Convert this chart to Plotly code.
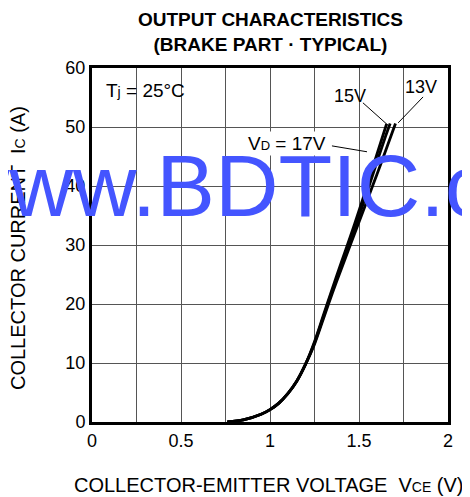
import plotly.graph_objects as go

# ---- data ----
v_17 = [0.76, 0.85, 0.95, 1.0, 1.05, 1.1, 1.15, 1.2, 1.25, 1.3, 1.35, 1.4, 1.45, 1.5, 1.55, 1.6, 1.655]
i_17 = [0, 0.35, 1.3, 2.1, 3.2, 4.8, 6.9, 9.8, 13.6, 18.1, 22.6, 27.0, 31.3, 35.8, 40.5, 45.3, 50.5]

v_15 = [0.76, 0.85, 0.95, 1.0, 1.05, 1.1, 1.15, 1.2, 1.25, 1.3, 1.35, 1.4, 1.45, 1.5, 1.55, 1.6, 1.65, 1.675]
i_15 = [0, 0.35, 1.3, 2.1, 3.2, 4.8, 6.9, 9.8, 13.4, 17.8, 22.2, 26.4, 30.6, 34.9, 39.4, 44.0, 48.5, 50.6]

v_13 = [0.76, 0.85, 0.95, 1.0, 1.05, 1.1, 1.15, 1.2, 1.25, 1.3, 1.35, 1.4, 1.45, 1.5, 1.55, 1.6, 1.65, 1.705]
i_13 = [0, 0.35, 1.3, 2.1, 3.2, 4.8, 6.9, 9.8, 13.2, 17.5, 21.8, 25.9, 29.9, 33.9, 37.9, 41.9, 46.0, 50.6]

x_ticks = [0, 0.5, 1, 1.5, 2]
x_tick_labels = ["0", "0.5", "1", "1.5", "2"]
y_ticks = [0, 10, 20, 30, 40, 50, 60]
y_tick_labels = ["0", "10", "20", "30", "40", "50", "60"]

FONT = "Liberation Sans, Arial, Helvetica, sans-serif"

fig = go.Figure()
for vx, iy, name in [(v_17, i_17, "17V"), (v_15, i_15, "15V"), (v_13, i_13, "13V")]:
    fig.add_trace(go.Scatter(x=vx, y=iy, mode="lines", name=name,
                             line=dict(color="black", width=2.8, shape="spline", smoothing=0.8),
                             showlegend=False, hoverinfo="skip"))

grid_col = "#555555"
fig.update_layout(
    width=462, height=489,
    margin=dict(l=84, r=22, t=60, b=75),
    paper_bgcolor="white", plot_bgcolor="white",
    font=dict(family=FONT, size=18, color="black"),
    xaxis=dict(range=[0, 2], tickvals=x_ticks, ticktext=x_tick_labels,
               showgrid=True, gridcolor=grid_col, gridwidth=1,
               minor=dict(dtick=0.25, showgrid=True, gridcolor=grid_col, gridwidth=1),
               showline=True, linewidth=3, linecolor="black", mirror=True,
               zeroline=False, ticks="", tickfont=dict(size=18)),
    yaxis=dict(range=[0, 60], tickvals=y_ticks, ticktext=y_tick_labels,
               showgrid=True, gridcolor=grid_col, gridwidth=1,
               showline=True, linewidth=3, linecolor="black", mirror=True,
               zeroline=False, ticks="", tickfont=dict(size=18)),
)

ann = []
# title
ann.append(dict(text="<b>OUTPUT CHARACTERISTICS<br>(BRAKE PART · TYPICAL)</b>",
                xref="paper", yref="paper", x=0.5, y=(422 - 7) / 354, yanchor="top",
                xanchor="center", showarrow=False, font=dict(size=19, family=FONT)))
# axis titles
ann.append(dict(text="COLLECTOR-EMITTER VOLTAGE  V<span style='font-size:14px'>CE</span> (V)",
                xref="paper", yref="paper", x=(269 - 92) / 356, y=(422 - 485) / 354,
                xanchor="center", yanchor="middle", showarrow=False, font=dict(size=20, family=FONT)))
ann.append(dict(text="COLLECTOR CURRENT  I<span style='font-size:14px'>C</span> (A)",
                xref="paper", yref="paper", x=(18 - 92) / 356, y=(422 - 248) / 354,
                xanchor="center", yanchor="middle", textangle=-90, showarrow=False,
                font=dict(size=20, family=FONT)))
# Tj label
ann.append(dict(text="T<span style='font-size:14px'>j</span> = 25°C", xref="x", yref="y",
                x=0.07, y=56.2, xanchor="left", yanchor="middle", showarrow=False,
                font=dict(size=19, family=FONT)))
# curve labels
ann.append(dict(text="15V", xref="x", yref="y", x=1.45, y=55.2, xanchor="center", yanchor="middle",
                showarrow=False, font=dict(size=18, family=FONT)))
ann.append(dict(text="13V", xref="x", yref="y", x=1.85, y=56.8, xanchor="center", yanchor="middle",
                showarrow=False, font=dict(size=18, family=FONT)))
ann.append(dict(text="V<span style='font-size:13px'>D</span> = 17V", xref="x", yref="y", x=1.095, y=47.2,
                xanchor="center", yanchor="middle", showarrow=False, bgcolor="white",
                font=dict(size=19, family=FONT)))
# watermark
ann.append(dict(text="www.BDTIC.com", xref="paper", yref="paper", x=(278 - 92) / 356, y=(422 - 185) / 354,
                xanchor="center", yanchor="middle", showarrow=False,
                font=dict(size=88, family=FONT, color="#4455FF")))
fig.update_layout(annotations=ann)

# leader lines
leaders = [((1.348, 46.8), (1.545, 45.8)),
           ((1.522, 54.1), (1.663, 50.3)),
           ((1.86, 55.1), (1.72, 50.7))]
for (x0, y0), (x1, y1) in leaders:
    fig.add_shape(type="line", xref="x", yref="y", x0=x0, y0=y0, x1=x1, y1=y1,
                  line=dict(color="black", width=1))

fig.write_html("out.html")
